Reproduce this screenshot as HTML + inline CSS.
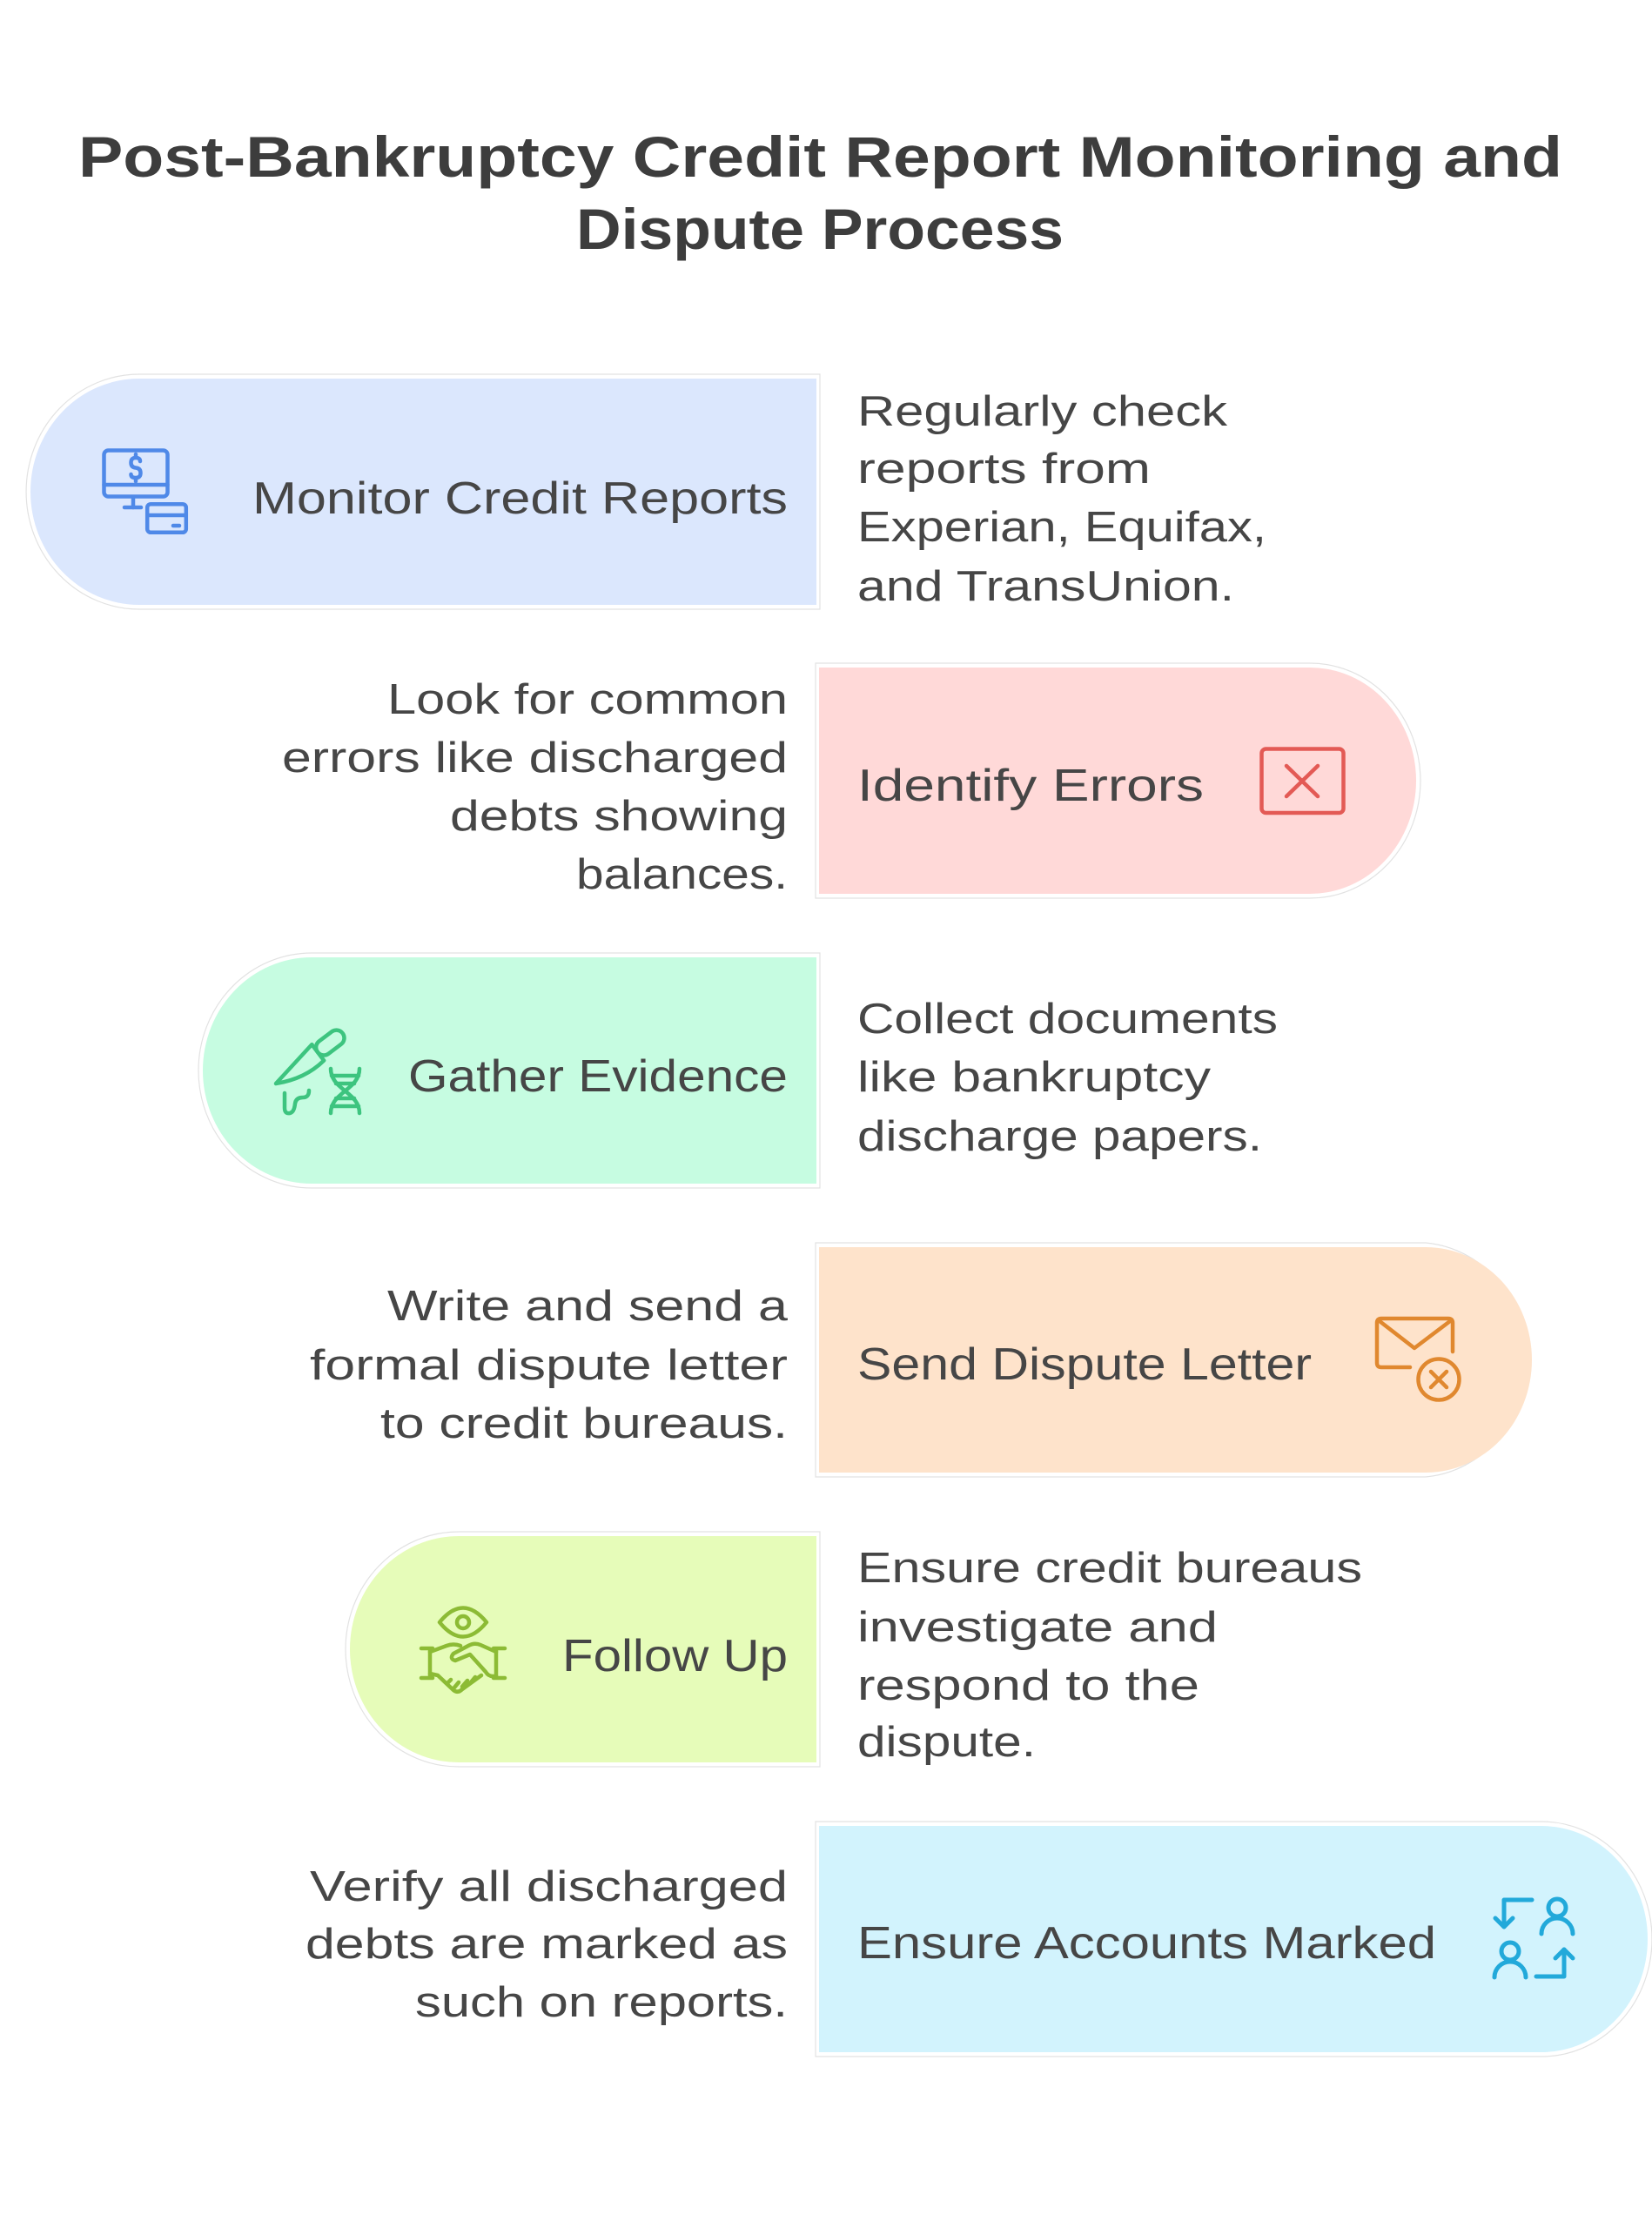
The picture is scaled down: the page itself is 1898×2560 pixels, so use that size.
<!DOCTYPE html>
<html>
<head>
<meta charset="utf-8">
<style>
  html, body { margin: 0; padding: 0; background: #ffffff; }
  body { width: 1898px; height: 2560px; overflow: hidden; }
  svg { display: block; }
  .t { font-family: "Liberation Sans", "DejaVu Sans", sans-serif; fill: #464646; }
  .title { font-weight: bold; font-size: 66px; fill: #3d3d3d; }
  .lbl { font-size: 52px; }
  .desc { font-size: 49px; }
  .ol { fill: none; stroke: #e2e2e2; stroke-width: 1.2; }
  .ic { fill: none; stroke-linecap: round; stroke-linejoin: round; }
</style>
</head>
<body>
<svg width="1898" height="2560" viewBox="0 0 1898 2560" xmlns="http://www.w3.org/2000/svg">
  <rect x="0" y="0" width="1898" height="2560" fill="#ffffff"/>

  <!-- Title -->
  <text class="t title" x="90" y="203" textLength="1705" lengthAdjust="spacingAndGlyphs">Post-Bankruptcy Credit Report Monitoring and</text>
  <text class="t title" x="662" y="286" textLength="560" lengthAdjust="spacingAndGlyphs">Dispute Process</text>

  <!-- Outlines -->
  <path class="ol" d="M942,430 L160,430 A130,135 0 0 0 160,700 L942,700 Z"/>
  <path class="ol" d="M937,762 L1505,762 A127,135 0 0 1 1505,1032 L937,1032 Z"/>
  <path class="ol" d="M942,1095 L358,1095 A130,135 0 0 0 358,1365 L942,1365 Z"/>
  <path class="ol" d="M937,1428 L1638,1428 A127,135 0 0 1 1638,1697 L937,1697 Z"/>
  <path class="ol" d="M942,1760 L527,1760 A130,135 0 0 0 527,2030 L942,2030 Z"/>
  <path class="ol" d="M937,2093 L1771,2093 A127,135 0 0 1 1771,2363 L937,2363 Z"/>

  <!-- Shapes -->
  <path fill="#DBE7FD" d="M938,435 L160,435 A125,130 0 0 0 160,695 L938,695 Z"/>
  <path fill="#FFD9D8" d="M941,767 L1505,767 A122,130 0 0 1 1505,1027 L941,1027 Z"/>
  <path fill="#C6FCE1" d="M938,1100 L358,1100 A125,130 0 0 0 358,1360 L938,1360 Z"/>
  <path fill="#FEE3CB" d="M941,1433 L1638,1433 A122,129.5 0 0 1 1638,1692 L941,1692 Z"/>
  <path fill="#E6FCB9" d="M938,1765 L527,1765 A125,130 0 0 0 527,2025 L938,2025 Z"/>
  <path fill="#D2F3FD" d="M941,2098 L1771,2098 A122,130 0 0 1 1771,2358 L941,2358 Z"/>

  <!-- Row 1 -->
  <g class="ic" stroke="#4F89E8" stroke-width="4.5">
    <rect x="119.5" y="517.5" width="73" height="53" rx="5"/>
    <line x1="119.5" y1="557" x2="192.5" y2="557"/>
    <path d="M161,530 Q161,526 156,526 Q150.5,526 150.5,531.5 Q150.5,537 156,537.5 Q161.5,538 161.5,543.5 Q161.5,549 156,549 Q150.5,549 150.5,545"/>
    <line x1="156" y1="522" x2="156" y2="525"/>
    <line x1="156" y1="550" x2="156" y2="553"/>
    <line x1="153" y1="571" x2="153" y2="583"/>
    <line x1="143" y1="583" x2="162" y2="583"/>
    <rect x="169.2" y="579.2" width="44.6" height="32.6" rx="4" fill="#DBE7FD"/>
    <line x1="169.2" y1="592" x2="213.8" y2="592"/>
    <line x1="199" y1="604" x2="206" y2="604"/>
  </g>
  <text class="t lbl" x="290" y="590" textLength="615" lengthAdjust="spacingAndGlyphs">Monitor Credit Reports</text>
  <text class="t desc" x="985" y="489" textLength="425" lengthAdjust="spacingAndGlyphs">Regularly check</text>
  <text class="t desc" x="985" y="555" textLength="337" lengthAdjust="spacingAndGlyphs">reports from</text>
  <text class="t desc" x="985" y="622" textLength="470" lengthAdjust="spacingAndGlyphs">Experian, Equifax,</text>
  <text class="t desc" x="985" y="690" textLength="433" lengthAdjust="spacingAndGlyphs">and TransUnion.</text>

  <!-- Row 2 -->
  <text class="t desc" x="445" y="820" textLength="460" lengthAdjust="spacingAndGlyphs">Look for common</text>
  <text class="t desc" x="324" y="887" textLength="581" lengthAdjust="spacingAndGlyphs">errors like discharged</text>
  <text class="t desc" x="517" y="954" textLength="388" lengthAdjust="spacingAndGlyphs">debts showing</text>
  <text class="t desc" x="662" y="1021" textLength="243" lengthAdjust="spacingAndGlyphs">balances.</text>
  <text class="t lbl" x="985" y="920" textLength="398" lengthAdjust="spacingAndGlyphs">Identify Errors</text>
  <g class="ic" stroke="#E35A55" stroke-width="4.5">
    <rect x="1449.5" y="860.5" width="94" height="73.5" rx="5"/>
    <line x1="1478" y1="880" x2="1514" y2="915"/>
    <line x1="1514" y1="880" x2="1478" y2="915"/>
  </g>

  <!-- Row 3 -->
  <g class="ic" stroke="#3DC47F" stroke-width="4.5">
    <g transform="translate(317,1245) rotate(-37)">
      <path d="M0,0 L60,-11 L60,12 Q30,16 0,0 Z"/>
      <rect x="60" y="-9" width="36" height="18" rx="9"/>
    </g>
    <path d="M327,1256 L327,1273 Q327,1280 333,1279 Q338,1278 339,1268 Q340,1261 348,1261 Q355,1261 355,1253"/>
    <path d="M380,1228 C380,1252 413,1255 413,1279"/>
    <path d="M413,1228 C413,1252 380,1255 380,1279"/>
    <line x1="381" y1="1236" x2="412" y2="1236"/>
    <line x1="386" y1="1245" x2="407" y2="1245"/>
    <line x1="386" y1="1262" x2="407" y2="1262"/>
    <line x1="381" y1="1271" x2="412" y2="1271"/>
  </g>
  <text class="t lbl" x="469" y="1254" textLength="436" lengthAdjust="spacingAndGlyphs">Gather Evidence</text>
  <text class="t desc" x="985" y="1187" textLength="483" lengthAdjust="spacingAndGlyphs">Collect documents</text>
  <text class="t desc" x="985" y="1254" textLength="406" lengthAdjust="spacingAndGlyphs">like bankruptcy</text>
  <text class="t desc" x="985" y="1322" textLength="465" lengthAdjust="spacingAndGlyphs">discharge papers.</text>

  <!-- Row 4 -->
  <text class="t desc" x="445" y="1517" textLength="460" lengthAdjust="spacingAndGlyphs">Write and send a</text>
  <text class="t desc" x="356" y="1585" textLength="549" lengthAdjust="spacingAndGlyphs">formal dispute letter</text>
  <text class="t desc" x="437" y="1652" textLength="468" lengthAdjust="spacingAndGlyphs">to credit bureaus.</text>
  <text class="t lbl" x="985" y="1585" textLength="522" lengthAdjust="spacingAndGlyphs">Send Dispute Letter</text>
  <g class="ic" stroke="#E0882F" stroke-width="4.5">
    <path d="M1620,1571 L1587,1571 Q1582,1571 1582,1566 L1582,1520 Q1582,1515 1587,1515 L1664,1515 Q1669,1515 1669,1520 L1669,1553"/>
    <path d="M1585,1518 L1625,1549 L1666,1518"/>
    <circle cx="1653" cy="1585" r="23.5"/>
    <line x1="1644" y1="1576" x2="1662" y2="1594"/>
    <line x1="1662" y1="1576" x2="1644" y2="1594"/>
  </g>

  <!-- Row 5 -->
  <g class="ic" stroke="#8CBB35" stroke-width="4.5">
    <path d="M505,1864 Q532,1831 559,1864 Q532,1897 505,1864 Z"/>
    <circle cx="532" cy="1864" r="7"/>
    <path d="M484,1894 L497,1894 M494,1894 L494,1928 M484,1928 L497,1928"/>
    <path d="M567,1894 L580,1894 M570,1894 L570,1928 M567,1928 L580,1928"/>
    <path d="M494,1898 L513,1891 Q521,1888 529,1891"/>
    <path d="M570,1898 L552,1890 Q545,1887 538,1891 L521,1900 Q516,1906 523,1908 L540,1901 L558,1921 Q561,1926 566,1926 L570,1926"/>
    <path d="M494,1923 L503,1925 L521,1942 Q526,1946 531,1941 L553,1925"/>
    <path d="M514,1934 L518,1930 M522,1939 L527,1933 M531,1938 L537,1931 M541,1933 L546,1927"/>
  </g>
  <text class="t lbl" x="646" y="1920" textLength="259" lengthAdjust="spacingAndGlyphs">Follow Up</text>
  <text class="t desc" x="985" y="1818" textLength="580" lengthAdjust="spacingAndGlyphs">Ensure credit bureaus</text>
  <text class="t desc" x="985" y="1886" textLength="414" lengthAdjust="spacingAndGlyphs">investigate and</text>
  <text class="t desc" x="985" y="1953" textLength="393" lengthAdjust="spacingAndGlyphs">respond to the</text>
  <text class="t desc" x="985" y="2018" textLength="205" lengthAdjust="spacingAndGlyphs">dispute.</text>

  <!-- Row 6 -->
  <text class="t desc" x="356" y="2184" textLength="549" lengthAdjust="spacingAndGlyphs">Verify all discharged</text>
  <text class="t desc" x="351" y="2250" textLength="554" lengthAdjust="spacingAndGlyphs">debts are marked as</text>
  <text class="t desc" x="477" y="2317" textLength="428" lengthAdjust="spacingAndGlyphs">such on reports.</text>
  <text class="t lbl" x="985" y="2250" textLength="665" lengthAdjust="spacingAndGlyphs">Ensure Accounts Marked</text>
  <g class="ic" stroke="#22A9DA" stroke-width="5">
    <path d="M1760,2183 L1728,2183 L1728,2214"/>
    <path d="M1718,2204 L1728,2214 L1738,2204"/>
    <circle cx="1789" cy="2192" r="10"/>
    <path d="M1771,2222 A18,18 0 0 1 1807,2222"/>
    <circle cx="1735" cy="2242" r="10"/>
    <path d="M1717,2272 A18,18 0 0 1 1753,2272"/>
    <path d="M1765,2271 L1797,2271 L1797,2240"/>
    <path d="M1787,2250 L1797,2240 L1807,2250"/>
  </g>
</svg>
</body>
</html>
